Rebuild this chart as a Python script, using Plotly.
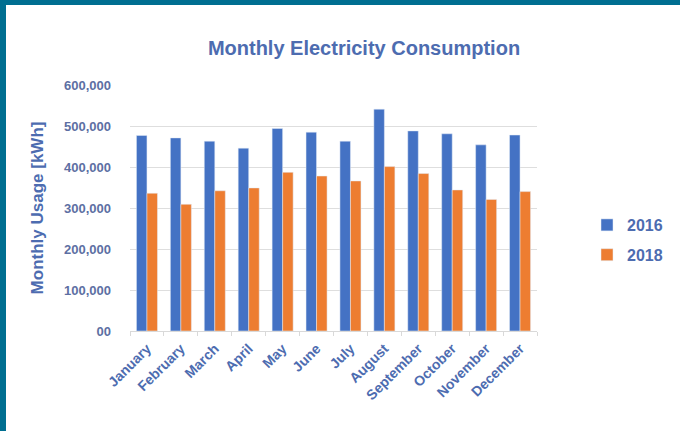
import plotly.graph_objects as go

months = ["January", "February", "March", "April", "May", "June", "July",
          "August", "September", "October", "November", "December"]
usage_2016 = [477000, 471000, 463000, 446000, 494000, 485000, 463000,
              541000, 488000, 481000, 454000, 478000]
usage_2018 = [336000, 309000, 342000, 349000, 387000, 378000, 366000,
              401000, 384000, 344000, 321000, 340000]
y_tickvals = [0, 100000, 200000, 300000, 400000, 500000, 600000]
y_ticktext = ["00", "100,000", "200,000", "300,000", "400,000", "500,000", "600,000"]

FONT = "Liberation Sans, Arial, sans-serif"
BLUE_TXT = "#4d6cb0"
TICK_TXT = "#5d6fa3"

fig = go.Figure()
fig.add_trace(go.Bar(x=months, y=usage_2016, name="2016", marker_color="#4472C4",
                     legendgroup="a"))
fig.add_trace(go.Bar(x=months, y=usage_2018, name="2018", marker_color="#ED7D31",
                     legendgroup="b"))

W, H = 680, 431
L, R, T, B = 130, 143, 85, 100
pw, ph = W - L - R, H - T - B

def px_x(p):
    return (p - L) / pw

def px_y(p):
    return (H - B - p) / ph

fig.update_layout(
    width=W, height=H,
    margin=dict(l=L, r=R, t=T, b=B, autoexpand=False),
    paper_bgcolor="white", plot_bgcolor="white",
    barmode="group", bargap=0.38, bargroupgap=0,
    title=dict(text="Monthly Electricity Consumption", x=px_x(364), xanchor="center",
               xref="paper", y=1 - 48 / H, yanchor="middle",
               font=dict(family=FONT, size=20, color=BLUE_TXT, weight="bold")),
    font=dict(family=FONT),
    legend=dict(x=px_x(587), xanchor="left", y=px_y(240), yanchor="middle",
                font=dict(family=FONT, size=16, color=BLUE_TXT, weight="bold"),
                tracegroupgap=6, bgcolor="rgba(0,0,0,0)"),
    xaxis=dict(tickangle=-45, tickson="boundaries", ticks="outside", ticklen=4,
               tickcolor="#d9d9d9", showline=True, linecolor="#d9d9d9", linewidth=1,
               ticklabelstandoff=3,
               tickfont=dict(family=FONT, size=14, color=BLUE_TXT, weight="bold"),
               showgrid=False, automargin=False),
    yaxis=dict(range=[0, 600000], tickvals=y_tickvals, ticktext=y_ticktext,
               showgrid=True, gridcolor="#dedede", gridwidth=1, zeroline=False,
               showline=False, ticklabelstandoff=18,
               tickfont=dict(family=FONT, size=13, color=TICK_TXT, weight="bold"),
               title=dict(text="Monthly Usage [kWh]", standoff=16,
                          font=dict(family=FONT, size=17, color=BLUE_TXT, weight="bold")),
               automargin=False),
    shapes=[
        dict(type="rect", xref="paper", yref="paper", x0=px_x(0), x1=px_x(W),
             y0=px_y(5), y1=px_y(0), fillcolor="#006f91", line_width=0, layer="above"),
        dict(type="rect", xref="paper", yref="paper", x0=px_x(0), x1=px_x(6),
             y0=px_y(H), y1=px_y(0), fillcolor="#006f91", line_width=0, layer="above"),
    ],
)

fig.write_html("out.html", config={"displayModeBar": False},
               post_script="document.body.style.margin='0';document.body.style.overflow='hidden';")
